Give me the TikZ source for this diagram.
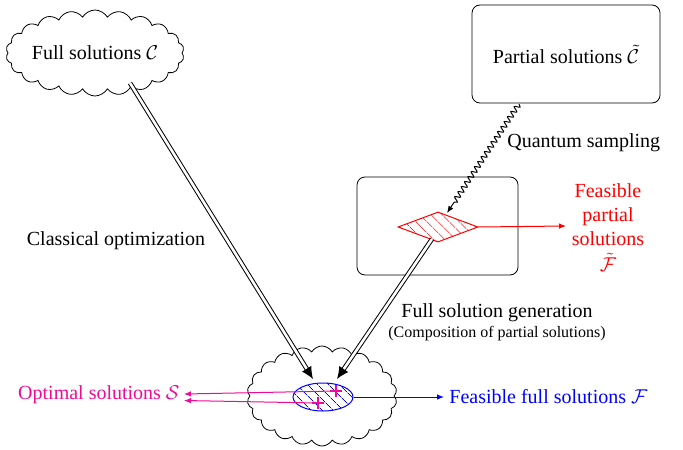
\documentclass[tikz,border=0pt]{standalone}
\usepackage{fontspec}
\setmainfont{Liberation Serif}
\usetikzlibrary{shapes.symbols,shapes.geometric,patterns.meta,decorations.pathmorphing,arrows.meta}
\definecolor{optpink}{RGB}{240,10,150}
\begin{document}
\begin{tikzpicture}[x=0.5pt,y=-0.5pt,
  cloudbox/.style={cloud, draw, cloud puffs=22, cloud puff arc=120, cloud ignores aspect, inner sep=0pt, align=center},
  roundbox/.style={draw, rounded corners=4pt, inner sep=0pt},
  dblarrow/.style={double, double distance=1.3pt, line width=0.5pt, -{Latex[length=6pt,width=5.5pt]}},
  thinarrow/.style={-{Latex[length=3.5pt,width=2.8pt]}, line width=0.5pt},
  lbl/.style={inner sep=0pt}
]
\useasboundingbox (0,0) rectangle (683,449);

% nodes
\node[cloudbox, minimum width=80pt, minimum height=43pt] (fullC) at (95,53) {Full solutions $\mathcal{C}$};
\node[roundbox, minimum width=94pt, minimum height=49pt] (partC) at (566,54) {Partial solutions $\tilde{\mathcal{C}}$};
\node[roundbox, minimum width=80.5pt, minimum height=49pt] (gen) at (437.5,226) {};
\node[diamond, draw=red, line width=0.5pt, inner sep=0pt, minimum width=40pt, minimum height=15pt,
      pattern={Lines[angle=-45,distance=4pt,line width=0.4pt]}, pattern color=red] (feasP) at (438,227) {};
\node[cloudbox, cloud puffs=22, minimum width=75pt, minimum height=50pt] (botC) at (322,396) {};
\node[ellipse, draw=blue, line width=0.5pt, inner sep=0pt, minimum width=30pt, minimum height=14pt,
      pattern={Lines[angle=-45,distance=4pt,line width=0.4pt]}, pattern color=blue] (feasF) at (323,397) {};

% crosses (optimal solutions)
\coordinate (o1) at (336,391);
\coordinate (o2) at (318,403);
\foreach \c in {o1,o2} {
  \draw[optpink, line width=1pt] ([xshift=-3pt]\c) -- ([xshift=3pt]\c);
  \draw[optpink, line width=1pt] ([yshift=-3pt]\c) -- ([yshift=3pt]\c);
}

% labels
\node[lbl, red, align=center] (feasPlbl) at (608,228) {Feasible\\partial\\solutions\\[1pt]$\tilde{\mathcal{F}}$};
\node[lbl, anchor=west] (qs) at (507,143) {Quantum sampling};
\node[lbl] (co) at (116,241) {Classical optimization};
\node[lbl] (fsg) at (497,313) {Full solution generation};
\node[lbl, font=\footnotesize] (comp) at (497,334) {(Composition of partial solutions)};
\node[lbl, blue, anchor=west] (feasFlbl) at (449,397) {Feasible full solutions $\mathcal{F}$};
\node[lbl, optpink, anchor=east] (optlbl) at (180,395) {Optimal solutions $\mathcal{S}$};

% connector end points
\coordinate (a1s) at (130,83);
\coordinate (a1e) at (313,379);
\coordinate (a2s) at (432,239);
\coordinate (a2e) at (337,379);
\coordinate (qs1) at (519,104);
\coordinate (qs2) at (447,213);
\coordinate (pe) at (566,226);
\coordinate (fe) at (444,397);
\coordinate (s1) at (184,394);
\coordinate (s2) at (184,400.5);

% connectors
\draw[dblarrow] (a1s) -- (a1e);
\draw[dblarrow] (a2s) -- (a2e);
\draw[thinarrow, decorate, decoration={snake, amplitude=1.3pt, segment length=3pt, post length=5pt}] (qs1) -- (qs2);
\draw[thinarrow, red] (feasP.east) -- (pe);
\draw[thinarrow, blue] (feasF.east) -- (fe);
\draw[thinarrow, optpink] (o1) -- (s1);
\draw[thinarrow, optpink] (o2) -- (s2);
\end{tikzpicture}
\end{document}
